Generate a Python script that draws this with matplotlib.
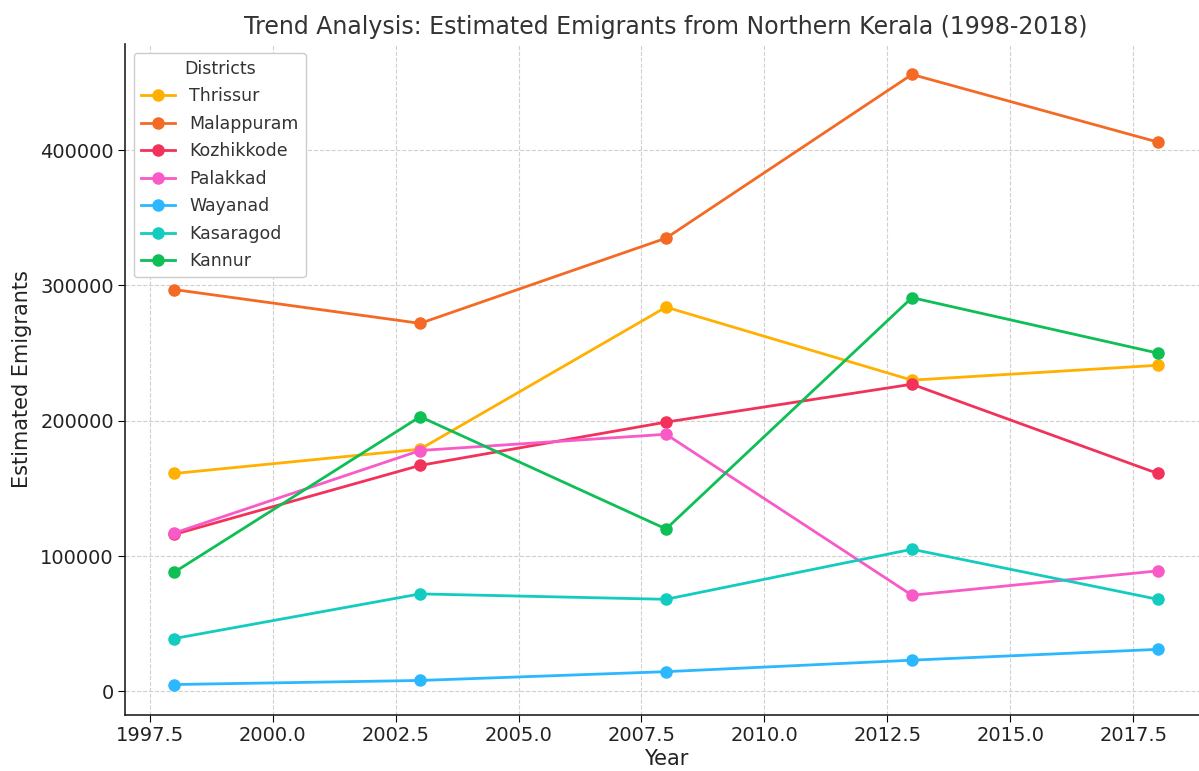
import matplotlib
matplotlib.use("Agg")
import matplotlib.pyplot as plt

years = [1998, 2003, 2008, 2013, 2018]
districts = ["Thrissur", "Malappuram", "Kozhikkode", "Palakkad", "Wayanad", "Kasaragod", "Kannur"]
thrissur = [161000, 179000, 284000, 230000, 241000]
malappuram = [297000, 272000, 335000, 456000, 406000]
kozhikkode = [116000, 167000, 199000, 227000, 161000]
palakkad = [117000, 178000, 190000, 71000, 89000]
wayanad = [5000, 8000, 14500, 23000, 31000]
kasaragod = [39000, 72000, 68000, 105000, 68000]
kannur = [88000, 203000, 120000, 291000, 250000]
series = [thrissur, malappuram, kozhikkode, palakkad, wayanad, kasaragod, kannur]
colors = ["#FFB000", "#F46A25", "#F2325A", "#F85AC8", "#2CB8FF", "#12CCC0", "#0DBF55"]

fig = plt.figure(figsize=(11.99, 7.71), dpi=100)
ax = fig.add_axes([0.1043, 0.0726, 0.9024, 0.8704])

for name, vals, c in zip(districts, series, colors):
    ax.plot(years, vals, marker="o", color=c, linewidth=2, markersize=8, label=name)

ax.set_title("Trend Analysis: Estimated Emigrants from Northern Kerala (1998-2018)",
             fontsize=17, color="#333333", pad=7)
ax.set_xlabel("Year", fontsize=15, color="#222222", labelpad=3)
ax.set_ylabel("Estimated Emigrants", fontsize=15, color="#222222", labelpad=6)
ax.grid(True, linestyle="--", color="#d0d0d0", linewidth=0.8)
ax.set_axisbelow(True)
for s in ["top", "right"]:
    ax.spines[s].set_visible(False)
for s in ["left", "bottom"]:
    ax.spines[s].set_linewidth(1.2)
    ax.spines[s].set_color("#222222")
ax.tick_params(axis="both", labelsize=14, labelcolor="#222222", direction="out", length=5, pad=3)
ax.ticklabel_format(axis="y", style="plain", useOffset=False)
ax.xaxis.set_major_formatter(matplotlib.ticker.FormatStrFormatter("%.1f"))

leg = ax.legend(title="Districts", loc="upper left", fontsize=12.5, title_fontsize=12.5,
                framealpha=1, edgecolor="#cccccc", labelspacing=0.55)
for t in leg.get_texts():
    t.set_color("#333333")
leg.get_title().set_color("#333333")

fig.savefig("out.png", dpi=100)
